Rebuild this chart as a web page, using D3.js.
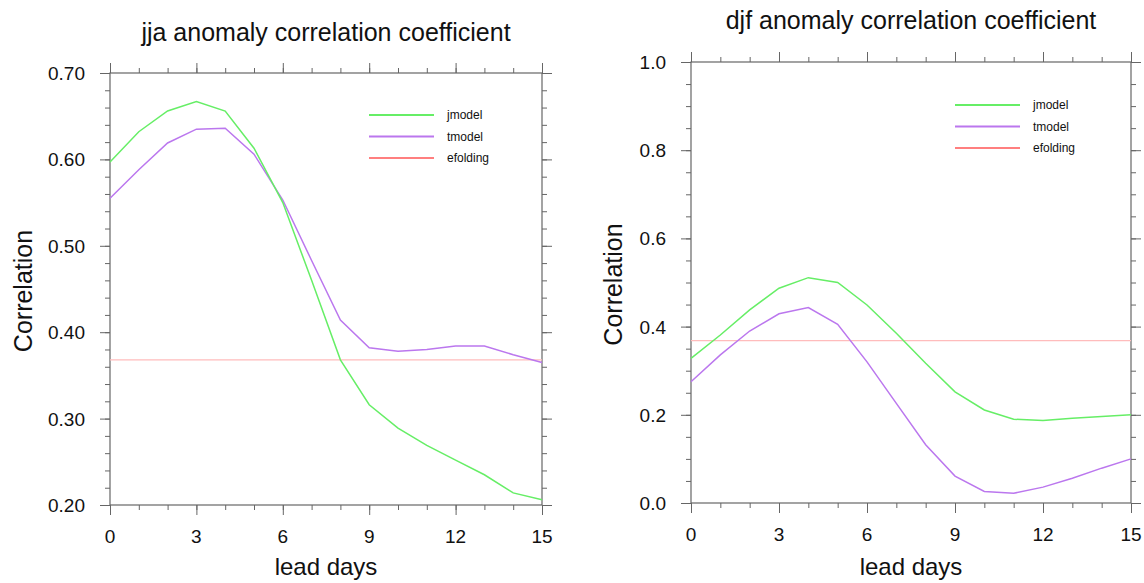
<!DOCTYPE html>
<html>
<head>
<meta charset="utf-8">
<script src="https://cdn.jsdelivr.net/npm/d3@7"></script>
<style>
  body { margin: 0; background: #fff; }
  text { font-family: "Liberation Sans", Arial, sans-serif; fill: #111; }
</style>
</head>
<body>
<svg width="1144" height="583"></svg>
<script>
// lead days 0..15
var leadDays = d3.range(0, 16);

// jja (summer) correlations
var jjaJmodel = [0.597, 0.632, 0.656, 0.667, 0.656, 0.613, 0.550, 0.460, 0.368, 0.316, 0.289, 0.269, 0.252, 0.235, 0.214, 0.206];
var jjaTmodel = [0.555, 0.588, 0.619, 0.635, 0.636, 0.606, 0.553, 0.483, 0.414, 0.382, 0.378, 0.380, 0.384, 0.384, 0.374, 0.365];

// djf (winter) correlations
var djfJmodel = [0.328, 0.381, 0.438, 0.487, 0.511, 0.500, 0.449, 0.385, 0.317, 0.252, 0.211, 0.190, 0.187, 0.192, 0.196, 0.200];
var djfTmodel = [0.275, 0.336, 0.390, 0.429, 0.443, 0.405, 0.320, 0.226, 0.132, 0.061, 0.026, 0.022, 0.036, 0.056, 0.079, 0.100];

// e-folding level (1/e)
var efolding = [0.368, 0.368];
var efoldDays = [0, 15];

var seriesNames = ["jmodel", "tmodel", "efolding"];
var seriesColors = ["#66ee66", "#bb77ee", "#ff7f7f"];

var svg = d3.select("svg");

function panel(opt) {
  var x = d3.scaleLinear().domain([0, 15]).range([opt.left, opt.right]);
  var y = d3.scaleLinear().domain(opt.yDomain).range([opt.bottom, opt.top]);
  var g = svg.append("g");

  var minorX = d3.range(0, 16);
  var minorY = d3.range(opt.yDomain[0], opt.yDomain[1] + 1e-9, opt.yMinor);
  var majorX = d3.range(0, 16, 3);
  var majorY = d3.range(opt.yDomain[0], opt.yDomain[1] + 1e-9, opt.yMajor);

  function tickAxis(axisFn, scale, vals, size, pos, isX) {
    var a = axisFn(scale).tickValues(vals).tickSize(size).tickSizeOuter(0).tickFormat("");
    var ga = g.append("g").attr("transform", isX ? "translate(0," + pos + ")" : "translate(" + pos + ",0)").call(a);
    ga.select(".domain").remove();
    ga.selectAll("line").attr("stroke", "#666").attr("stroke-width", 1);
  }
  // bottom / top
  tickAxis(d3.axisBottom, x, minorX, 5, opt.bottom, true);
  tickAxis(d3.axisBottom, x, majorX, 10, opt.bottom, true);
  tickAxis(d3.axisTop, x, minorX, 5, opt.top, true);
  tickAxis(d3.axisTop, x, majorX, 10, opt.top, true);
  // left / right
  tickAxis(d3.axisLeft, y, minorY, 5, opt.left, false);
  tickAxis(d3.axisLeft, y, majorY, 10, opt.left, false);
  tickAxis(d3.axisRight, y, minorY, 5, opt.right, false);
  tickAxis(d3.axisRight, y, majorY, 10, opt.right, false);

  // tick labels
  g.selectAll(".xl").data(majorX).enter().append("text")
    .attr("x", function(d) { return x(d); })
    .attr("y", opt.bottom + 38)
    .attr("text-anchor", "middle")
    .style("font-size", "19px")
    .text(function(d) { return d; });
  g.selectAll(".yl").data(majorY).enter().append("text")
    .attr("x", opt.left - 25)
    .attr("y", function(d) { return y(d) + 7; })
    .attr("text-anchor", "end")
    .style("font-size", "19px")
    .text(function(d) { return d3.format(opt.yFormat)(d); });

  // frame
  g.append("rect")
    .attr("x", opt.left).attr("y", opt.top)
    .attr("width", opt.right - opt.left).attr("height", opt.bottom - opt.top)
    .attr("fill", "none").attr("stroke", "#666").attr("stroke-width", 1.2);

  // lines
  var line = d3.line().x(function(d, i) { return x(leadDays[i]); }).y(function(d) { return y(d); });
  g.append("path").datum(efolding)
    .attr("d", d3.line().x(function(d, i) { return x(efoldDays[i]); }).y(function(d) { return y(d); }))
    .attr("fill", "none").attr("stroke", "#ffbcbc").attr("stroke-width", 1.3);
  g.append("path").datum(opt.tmodel).attr("d", line)
    .attr("fill", "none").attr("stroke", seriesColors[1]).attr("stroke-width", 1.5);
  g.append("path").datum(opt.jmodel).attr("d", line)
    .attr("fill", "none").attr("stroke", seriesColors[0]).attr("stroke-width", 1.5);

  // legend
  seriesNames.forEach(function(name, i) {
    var ly = opt.legY + i * 21.5;
    g.append("line")
      .attr("x1", opt.legX).attr("x2", opt.legX + 65)
      .attr("y1", ly).attr("y2", ly)
      .attr("stroke", seriesColors[i]).attr("stroke-width", 2);
    g.append("text")
      .attr("x", opt.legX + 78).attr("y", ly + 4)
      .style("font-size", "12px")
      .text(name);
  });

  // titles
  var cx = (opt.left + opt.right) / 2;
  g.append("text").attr("x", cx).attr("y", opt.titleY)
    .attr("text-anchor", "middle").style("font-size", "25px").text(opt.title);
  g.append("text").attr("x", cx).attr("y", 575)
    .attr("text-anchor", "middle").style("font-size", "24px").text("lead days");
  g.append("text")
    .attr("transform", "translate(" + opt.ylabX + "," + ((opt.top + opt.bottom) / 2 + 2) + ") rotate(-90)")
    .attr("text-anchor", "middle").style("font-size", "25px").text("Correlation");
}

panel({
  left: 110, right: 542, top: 73, bottom: 505,
  yDomain: [0.2, 0.7], yMajor: 0.1, yMinor: 0.02, yFormat: ".2f",
  jmodel: jjaJmodel, tmodel: jjaTmodel,
  legX: 369, legY: 115,
  title: "jja anomaly correlation coefficient", titleY: 41,
  ylabX: 32
});

panel({
  left: 691, right: 1131, top: 62, bottom: 503,
  yDomain: [0, 1], yMajor: 0.2, yMinor: 0.05, yFormat: ".1f",
  jmodel: djfJmodel, tmodel: djfTmodel,
  legX: 955, legY: 105,
  title: "djf anomaly correlation coefficient", titleY: 29,
  ylabX: 622
});
</script>
</body>
</html>
